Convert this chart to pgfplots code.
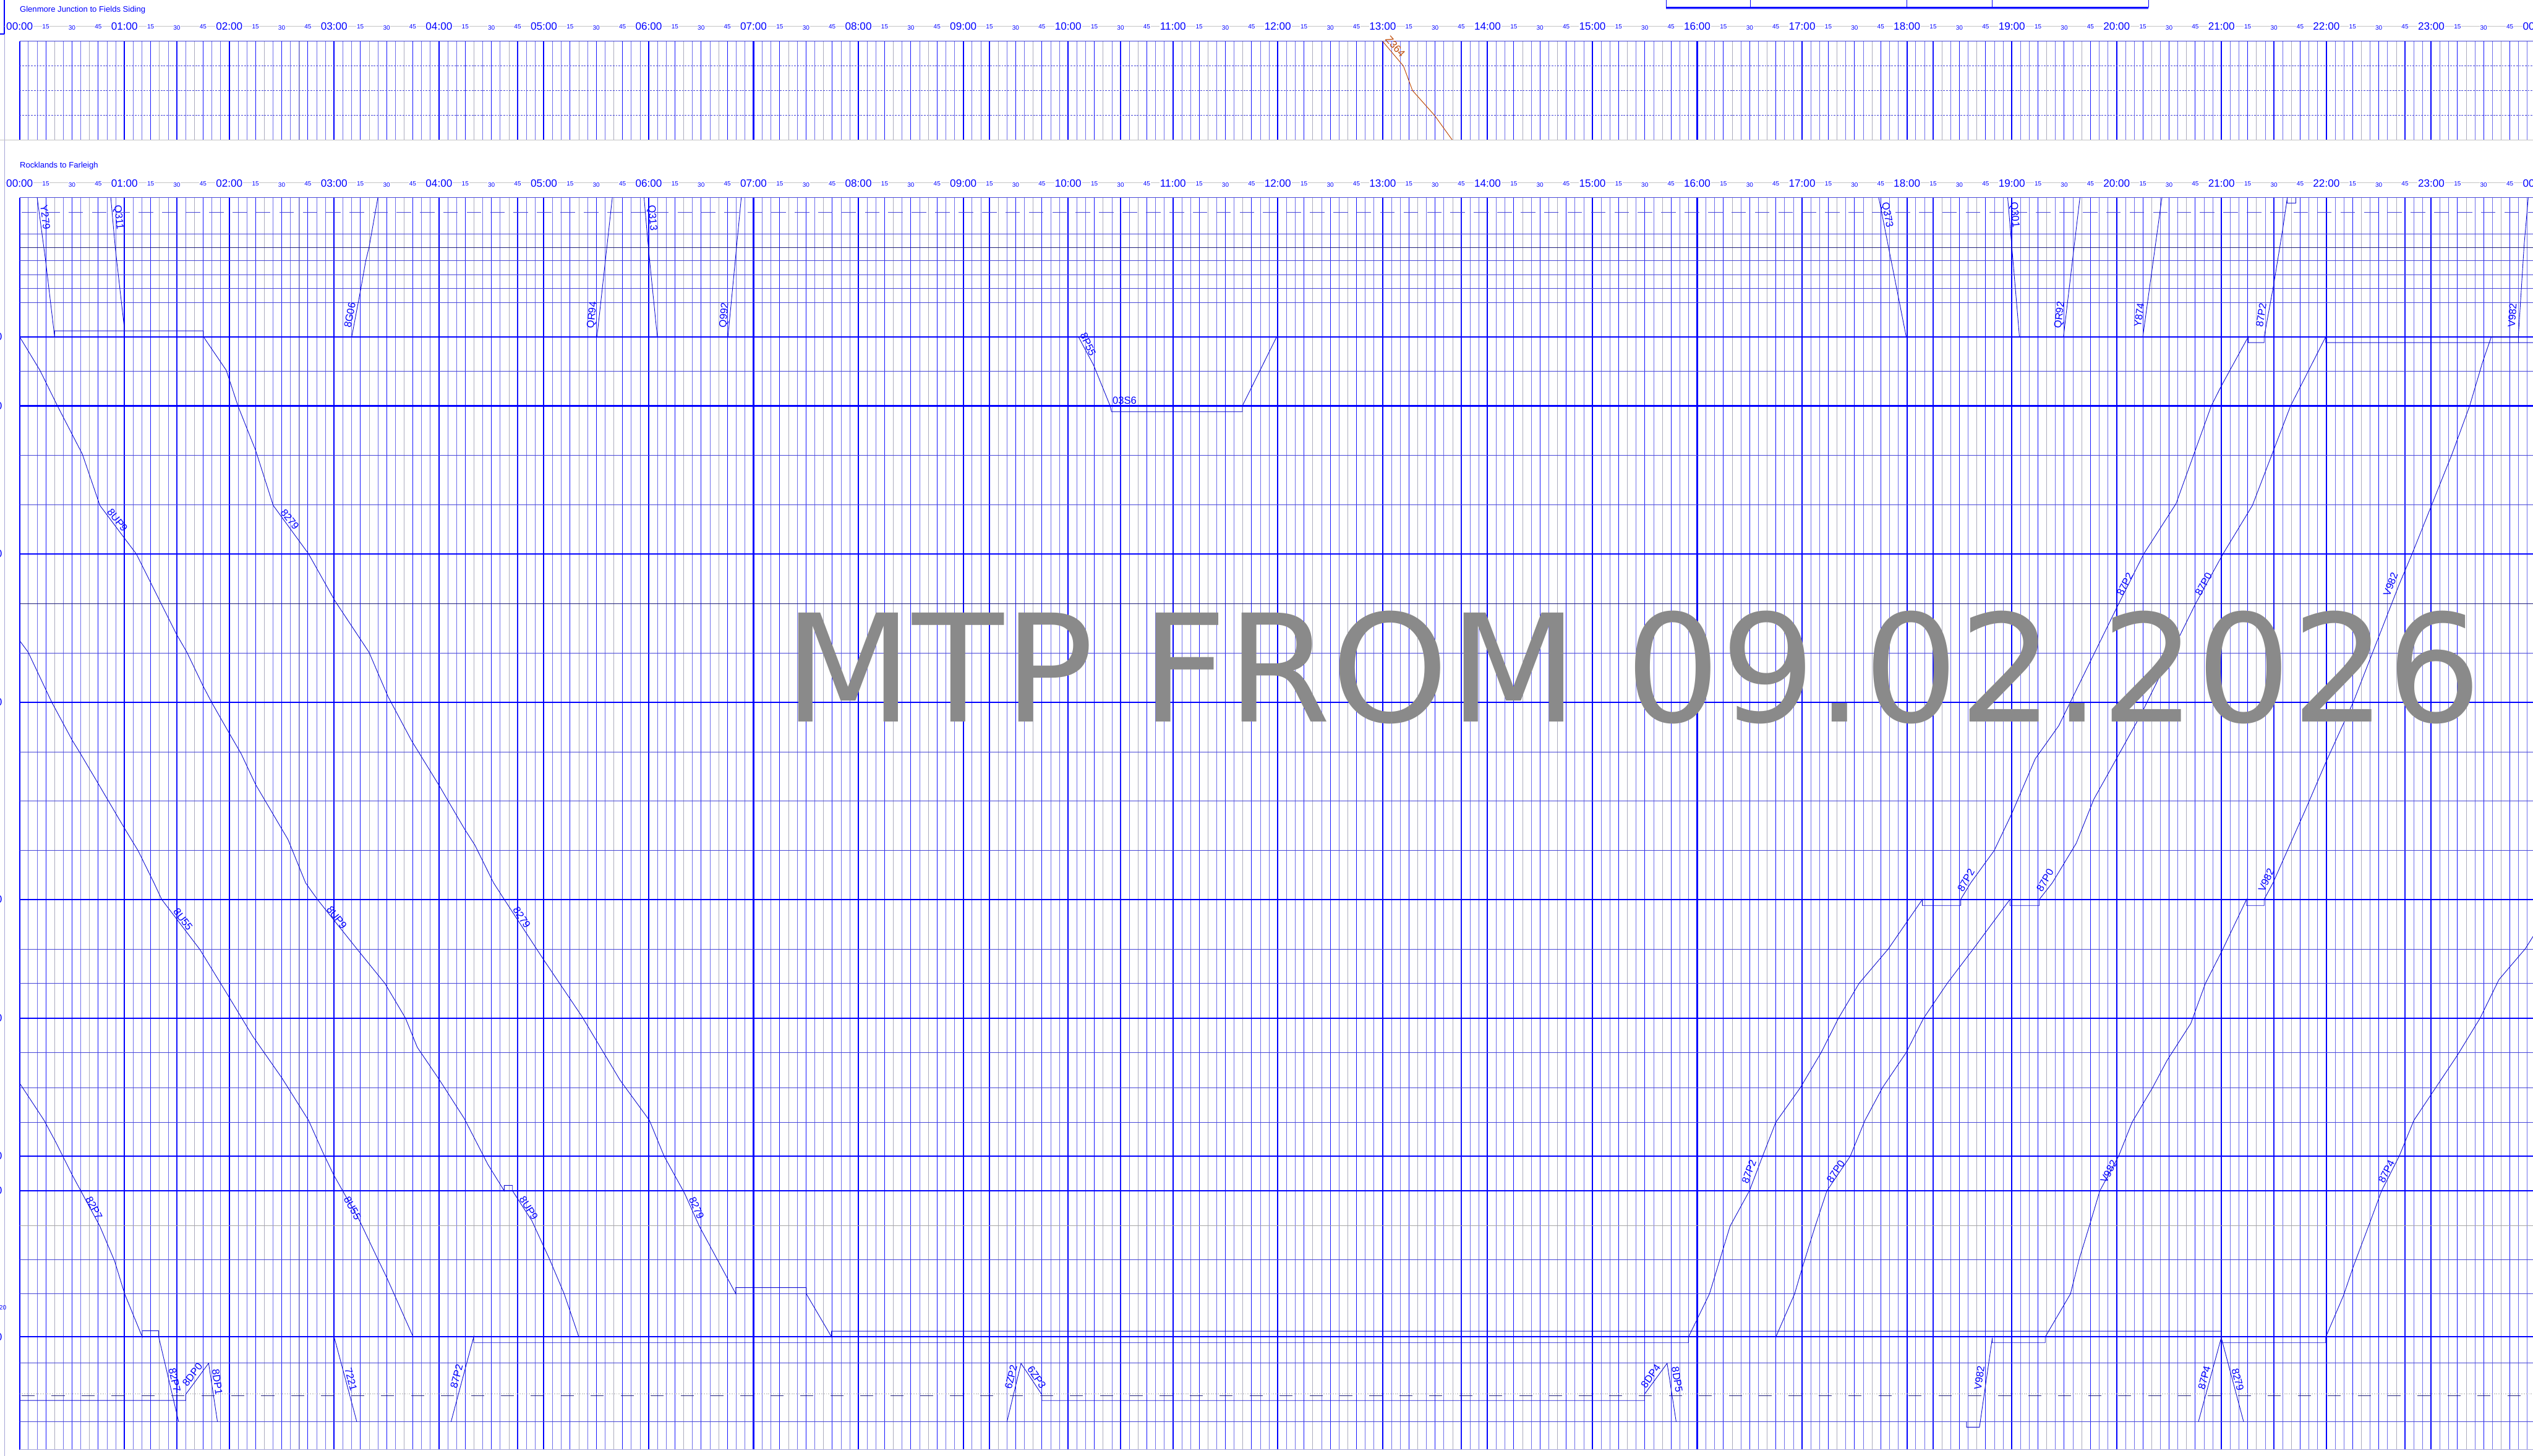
\documentclass[border=0pt]{standalone}
\usepackage{pgfplots}
\pgfplotsset{compat=1.18}
\usepackage{fontspec}
\setmainfont{Liberation Sans}
\newfontfamily\wmfont{DejaVu Sans}
\definecolor{gridthin}{RGB}{110,110,235}
\definecolor{gridgray}{RGB}{170,170,190}
\definecolor{gridmid}{RGB}{20,20,255}
\definecolor{hline}{RGB}{70,70,215}
\definecolor{navyd}{RGB}{30,30,120}
\definecolor{train}{RGB}{15,15,210}
\definecolor{brownz}{RGB}{190,75,10}
\definecolor{lgray}{RGB}{195,195,195}
\definecolor{edgeline}{RGB}{165,165,215}
\definecolor{wm}{RGB}{138,138,138}
\newcommand\hourfont{\fontsize{7.85pt}{9pt}\selectfont}
\newcommand\qfont{\fontsize{4.6pt}{5.5pt}\selectfont}
\newcommand\lblfont{\fontsize{7.6pt}{9pt}\selectfont}
\newcommand\titlefont{\fontsize{6pt}{7pt}\selectfont}
\pgfplotsset{
  panel/.style={
    scale only axis, width=655.392mm, xmin=0, xmax=24, y dir=reverse,
    axis line style={draw=none}, tick style={draw=none},
    xtick={0,0.25,...,24}, minor x tick num=2,
    xmajorgrids, xminorgrids, ytick=\empty,
    xticklabel={\relax},
    xticklabel style={opacity=0, text opacity=0},
    major grid style={gridmid, line width=0.5pt},
    minor grid style={gridthin, line width=0.28pt},
    extra x ticks={0,1,...,24},
    extra x tick style={grid=major, major grid style={blue, line width=0.95pt}, xticklabel={\relax}, xticklabel style={opacity=0, text opacity=0}},
  },
  tr/.style={draw=train, line width=0.42pt},
}
\newcommand\lbl[4]{\node[font=\lblfont, text=blue, rotate=#3, inner sep=0pt] at (#1,#2) {#4};}
\begin{document}
\begin{tikzpicture}
% ---------------- top panel ----------------
\begin{axis}[panel, at={(5.1mm,-10.77mm)}, anchor=north west, height=25.66mm, ymin=107.7, ymax=364.3]
  \pgfplotsinvokeforeach{0,...,23}{
    \addplot[gridgray, line width=0.28pt] coordinates {(#1+0.3333,107.7)(#1+0.3333,364.3)};
    \addplot[gridgray, line width=0.28pt] coordinates {(#1+0.6667,107.7)(#1+0.6667,364.3)};}
  \addplot[hline, line width=0.35pt] coordinates {(0,107.7)(24,107.7)};
  \pgfplotsinvokeforeach{171.9,236,300.2}{
    \addplot[hline, line width=0.35pt, dash pattern=on 0.45mm off 0.3mm] coordinates {(0,#1)(24,#1)};}
  \addplot[brownz, line width=0.45pt] coordinates {(13.000,107.7)(13.198,171.9)(13.285,236)(13.494,300.2)(13.663,364.3)};
\end{axis}
% ---------------- bottom panel ----------------
\begin{axis}[panel, at={(5.1mm,-51.48mm)}, anchor=north west, height=326.12mm, ymin=514.8, ymax=3776]
  \pgfplotsinvokeforeach{0,...,23}{
    \addplot[gridgray, line width=0.28pt] coordinates {(#1+0.3333,514.8)(#1+0.3333,3776)};
    \addplot[gridgray, line width=0.28pt] coordinates {(#1+0.6667,514.8)(#1+0.6667,3776)};}
  \addplot[hline, line width=0.35pt] coordinates {(0,514.8)(24,514.8)};
  \addplot[edgeline, line width=0.5pt] coordinates {(0,3776)(24,3776)};
  \pgfplotsinvokeforeach{608.6,678.7,715.1,751.4,788.4,967.4,1185.5,1314.7,1701,1958.4,2086.6,2214.8,2473.2,2561.7,2742.4,2832.8,2923.2,3282,3370.4,3550.3,3703.5}{
    \addplot[hline, line width=0.35pt] coordinates {(0,#1)(24,#1)};}
  \pgfplotsinvokeforeach{644.3,1572}{
    \addplot[navyd, line width=0.35pt] coordinates {(0,#1)(24,#1)};}
  \addplot[gray!70, line width=0.35pt] coordinates {(0,3192.5)(24,3192.5)};
  \pgfplotsinvokeforeach{877,1057.3,1442.8,1829.3,2342.8,2652,3011.7,3102,3482.7}{
    \addplot[blue, line width=0.95pt] coordinates {(0,#1)(24,#1)};}
  \addplot[hline, line width=0.45pt, dash pattern=on 3.8mm off 2.3mm] coordinates {(0.02,553.7)(24,553.7)};
  \addplot[gray!60, line width=0.3pt, dash pattern=on 0.3mm off 0.3mm] coordinates {(0,3631)(24,3631)};
  \addplot[navyd, line width=0.45pt, dash pattern=on 3.4mm off 4.4mm] coordinates {(0.02,3635.3)(24,3635.3)};
  % ---- trains ----
  \addplot[tr] coordinates {(0.168,514.8)(0.248,678.7)(0.334,877)(0.334,861.7)(1.753,861.7)(1.753,877)};
  \addplot[tr] coordinates {(0.870,514.8)(0.912,644.3)(1.002,861.7)};
  \addplot[tr] coordinates {(3.168,877)(3.255,751.4)(3.302,678.7)(3.333,644.3)(3.417,514.8)};
  \addplot[tr] coordinates {(5.507,877)(5.653,514.8)};
  \addplot[tr] coordinates {(5.956,514.8)(5.987,614)(6.019,706)(6.082,877)};
  \addplot[tr] coordinates {(6.756,877)(6.883,514.8)};
  \addplot[tr] coordinates {(10.098,877)(10.243,951)(10.401,1057.3)(10.414,1072.4)(11.662,1072.4)(11.662,1057.3)(11.990,877)};
  \addplot[tr] coordinates {(17.731,514.8)(17.993,877)};
  \addplot[tr] coordinates {(18.961,514.8)(19.073,877)};
  \addplot[tr] coordinates {(19.493,877)(19.650,514.8)};
  \addplot[tr] coordinates {(20.250,877)(20.432,514.8)};
  % 8UP9
  \addplot[tr] coordinates {(0,877)(0.194,964.5)(0.363,1058.3)(0.598,1182.6)(0.766,1316.6)(1.002,1402.7)(1.113,1442.8)(1.495,1651.4)(1.596,1699.2)(1.747,1785.3)(1.831,1829.3)(1.999,1909.7)(2.111,1962.3)(2.251,2043.6)(2.560,2187)(2.728,2300)(2.840,2342.8)(3.221,2473.2)(3.484,2561.7)(3.680,2652)(3.793,2728.2)(4.006,2813.8)(4.241,2913.7)(4.465,3032.7)(4.622,3102)(4.622,3088)(4.701,3088)(4.701,3102)(4.886,3180)(5.054,3280)(5.194,3370.4)(5.334,3482.7)};
  % 8U55
  \addplot[tr] coordinates {(0,1668.6)(0.082,1699)(0.307,1829.3)(0.503,1928.8)(0.570,1958.4)(0.755,2043.6)(1.002,2158.4)(1.130,2215.8)(1.282,2300)(1.355,2342.8)(1.719,2473.2)(1.971,2585.5)(2.224,2699.6)(2.504,2809)(2.756,2918.5)(2.896,3004)(2.997,3061.2)(3.243,3180)(3.400,3270.6)(3.501,3327.6)(3.754,3482.7)};
  % 8279
  \addplot[tr] coordinates {(1.753,877)(1.971,964.5)(2.084,1058.3)(2.251,1173)(2.419,1316.6)(2.756,1442.8)(3.008,1565.3)(3.333,1699.2)(3.513,1814)(3.737,1928.8)(4.006,2048.3)(4.241,2158.4)(4.342,2201.4)(4.521,2300)(4.622,2342.8)(4.998,2500)(5.362,2647.3)(5.727,2813.8)(6.007,2918.5)(6.147,3011.7)(6.343,3108.8)(6.483,3194.4)(6.831,3370.4)(6.831,3354.3)(7.503,3354.3)(7.503,3370.4)(7.744,3482.7)(7.744,3467.7)(20.998,3467.7)(20.998,3484.6)(21.211,3703.5)};
  % 82P7
  \addplot[tr] coordinates {(0,2821.4)(0.234,2918.5)(0.346,2975.6)(0.503,3061.2)(0.766,3194.4)(0.906,3284.8)(1.002,3370.4)(1.170,3482.7)(1.170,3466.5)(1.327,3466.5)(1.327,3482.7)(1.517,3703.5)};
  % siding + 8DP0 / 8DP1
  \addplot[tr] coordinates {(0,3648)(1.585,3648)(1.585,3632)(1.803,3551.2)(1.887,3703.5)};
  % 7221
  \addplot[tr] coordinates {(3.000,3482.7)(3.216,3703.5)};
  % 6ZP2 / 6ZP3, siding, 8DP4 / 8DP5
  \addplot[tr] coordinates {(9.417,3703.5)(9.551,3551.7)(9.749,3632.7)(9.749,3648.3)(15.497,3648.3)(15.497,3632)(15.713,3551.4)(15.799,3703.5)};
  % 87P2
  \addplot[tr] coordinates {(4.115,3703.5)(4.331,3482.7)(4.331,3497.7)(15.917,3497.7)(15.917,3482.7)(16.117,3370.4)(16.313,3194.4)(16.498,3102)(16.621,3013.6)(16.750,2923.2)(16.985,2832.8)(17.181,2742.4)(17.348,2652)(17.544,2561.7)(17.824,2471.3)(18.148,2342.8)(18.148,2359)(18.513,2359)(18.513,2342.8)(18.608,2300)(18.832,2215.8)(18.999,2120)(19.224,1976.6)(19.448,1890.5)(20.019,1573)(20.259,1442.8)(20.567,1311.8)(20.903,1057.3)(20.998,1005.7)(21.256,877)(21.256,892.4)(21.407,892.4)(21.407,877)(21.496,744.4)(21.580,604)(21.628,514.8)};
  \addplot[tr] coordinates {(21.628,514.8)(21.628,529.5)(21.711,529.5)(21.711,514.8)};
  % 87P0
  \addplot[tr] coordinates {(16.750,3482.7)(16.929,3370.4)(16.995,3308.6)(17.125,3194.4)(17.237,3102)(17.460,3011.7)(17.600,2918.5)(17.768,2832.8)(17.992,2742.4)(18.160,2652)(18.384,2561.7)(18.635,2471.3)(18.983,2342.8)(18.983,2359)(19.263,2359)(19.263,2342.8)(19.386,2300)(19.615,2196.7)(19.783,2081.8)(19.979,1986)(20.231,1861.8)(20.752,1573)(21.015,1442.8)(21.295,1316.6)(21.659,1057.3)(21.995,877)(21.995,892.4)(24.2,892.4)};
  % V982
  \addplot[tr] coordinates {(18.569,3703.5)(18.569,3717.8)(18.692,3717.8)(18.815,3484.6)(18.815,3497.7)(19.319,3497.7)(19.319,3482.7)(19.560,3370.4)(19.643,3280)(19.739,3194.4)(19.840,3102)(20.019,3011.7)(20.148,2923.2)(20.344,2832.8)(20.483,2761.5)(20.707,2666.3)(20.847,2561.7)(21.015,2471.3)(21.239,2342.8)(21.239,2359)(21.407,2359)(21.407,2342.8)(21.491,2300)(21.799,2110.5)(21.995,1986)(22.258,1828.3)(22.415,1718.3)(22.695,1522.2)(22.818,1442.8)(23.003,1316.6)(23.199,1182.6)(23.367,1057.3)(23.490,943.5)(23.574,877)(23.831,877)(23.887,636)(23.926,514.8)};
  \addplot[tr] coordinates {(23.831,877)(23.831,892.4)};
  % 87P4
  \addplot[tr] coordinates {(20.780,3703.5)(20.998,3484.6)(20.998,3497.7)(21.995,3497.7)(21.995,3482.7)(22.163,3375.2)(22.258,3299)(22.415,3185)(22.527,3102)(22.695,3011.7)(22.835,2918.5)(23.254,2747.2)(23.467,2652)(23.646,2552)(23.898,2471.3)(24.2,2340)};
\end{axis}
% ---------------- decorations and text ----------------
\begin{scope}[x=0.1mm, y=-0.1mm]
  \draw[blue, line width=0.9pt] (-5,88) -- (11.5,88) -- (11.5,-5);
  \draw[edgeline, line width=0.3pt] (11.5,88) -- (11.5,3800);
  \draw[lgray, line width=0.4pt] (11.5,68.3) -- (6600,68.3);
  \draw[lgray, line width=0.4pt] (11.5,476.5) -- (6600,476.5);
  \draw[lgray, line width=0.4pt] (0,364.3) -- (6600,364.3);
  % top-right box
  \fill[blue!15] (4339,20) rectangle (5595,25);
  \draw[blue, line width=1.1pt] (4339,20) -- (5595,20);
  \foreach \bx in {4339,4559,4966,5189,5595} {\draw[blue, line width=0.35pt] (\bx,-2) -- (\bx,20);}
  % titles
  \node[font=\titlefont, text=blue, anchor=base west, inner sep=0pt] at (51,31.5) {Glenmore Junction to Fields Siding};
  \node[font=\titlefont, text=blue, anchor=base west, inner sep=0pt] at (51,438) {Rocklands to Farleigh};
  % time labels
  \foreach \yy/\yq in {68.7/70,477.8/478.4} {
    \foreach \h in {0,...,24} {
      \pgfmathtruncatemacro\hh{mod(\h,24)}
      \node[font=\hourfont, text=blue, fill=white, inner sep=0.4pt] at ({51+\h*273.08},\yy) {\ifnum\hh<10 0\fi\hh:00};
    }
    \foreach \h in {0,...,23} {
      \node[font=\qfont, text=blue, fill=white, inner sep=0.3pt] at ({51+(\h+0.25)*273.08},\yq) {15};
      \node[font=\qfont, text=blue, fill=white, inner sep=0.3pt] at ({51+(\h+0.5)*273.08},\yq+3) {30};
      \node[font=\qfont, text=blue, fill=white, inner sep=0.3pt] at ({51+(\h+0.75)*273.08},\yq) {45};
    }
  }
  % cut-off distance labels on the left
  \foreach \yy in {877,1057.3,1442.8,1829.3,2342.8,2652,3011.7,3102,3482.7} {
    \node[font=\hourfont, text=blue, anchor=east, inner sep=0pt] at (6,\yy) {0};
  }
  \node[font=\qfont, text=blue, anchor=east, inner sep=0pt] at (17,3406) {20};
  % train labels
  \node[font=\lblfont, text=brownz, rotate=-48, inner sep=0pt] at (3634,121) {Z364};
  \lbl{118}{566}{-83}{Y279}
  \lbl{308}{567}{-84}{Q311}
  \lbl{911}{821}{79}{8G06}
  \lbl{1543}{821}{84}{QR94}
  \lbl{1698}{568}{-85}{Q313}
  \lbl{1887}{821}{85}{Q992}
  \lbl{2834}{897}{-65}{8P55}
  \node[font=\lblfont, text=blue, anchor=south west, inner sep=0pt] at (2897,1054) {03S6};
  \lbl{4914}{560}{-79}{Q373}
  \lbl{5246}{560}{-85}{Q301}
  \lbl{5365}{821}{83}{QR92}
  \lbl{5571}{821}{82}{Y874}
  \lbl{5889}{821}{81}{87P2}
  \lbl{6543}{821}{86}{V982}
  \lbl{306}{1355}{-52}{8UP9}
  \lbl{755}{1353}{-52}{8279}
  \lbl{477}{2395}{-53}{8U55}
  \lbl{877}{2390}{-52}{8UP9}
  \lbl{1359}{2390}{-57}{8279}
  \lbl{918}{3147}{-61}{8U55}
  \lbl{1377}{3147}{-58}{8UP9}
  \lbl{1814}{3147}{-66}{8279}
  \lbl{245}{3147}{-62}{82P7}
  \lbl{455}{3595}{-77}{82P7}
  \lbl{501}{3581}{52}{8DP0}
  \lbl{566}{3600}{-82}{8DP1}
  \lbl{914}{3593}{-75}{7221}
  \lbl{1189}{3585}{75}{87P2}
  \lbl{2633}{3587}{76}{6ZP2}
  \lbl{2700}{3588}{-56}{6ZP3}
  \lbl{4299}{3585}{54}{8DP4}
  \lbl{4368}{3594}{-81}{8DP5}
  \lbl{4555}{3052}{69}{87P2}
  \lbl{4781}{3052}{56}{87P0}
  \lbl{5492}{3052}{62}{V982}
  \lbl{6215}{3052}{63}{87P4}
  \lbl{5155}{3589}{82}{V982}
  \lbl{5741}{3589}{75}{87P4}
  \lbl{5828}{3594}{-75}{8279}
  \lbl{5120}{2293}{60}{87P2}
  \lbl{5326}{2293}{60}{87P0}
  \lbl{5902}{2293}{65}{V982}
  \lbl{5534}{1522}{63}{87P2}
  \lbl{5739}{1522}{61}{87P0}
  \lbl{6226}{1522}{69}{V982}
  % watermark
  \node[font={\wmfont\fontsize{110.8pt}{130pt}\selectfont}, text=wm, anchor=base west, inner sep=0pt] at (2040,1881) {MTP FROM 09.02.2026};
\end{scope}
\pgfresetboundingbox
\useasboundingbox (0,0) rectangle (659.7mm,-379.2mm);
\end{tikzpicture}
\end{document}
